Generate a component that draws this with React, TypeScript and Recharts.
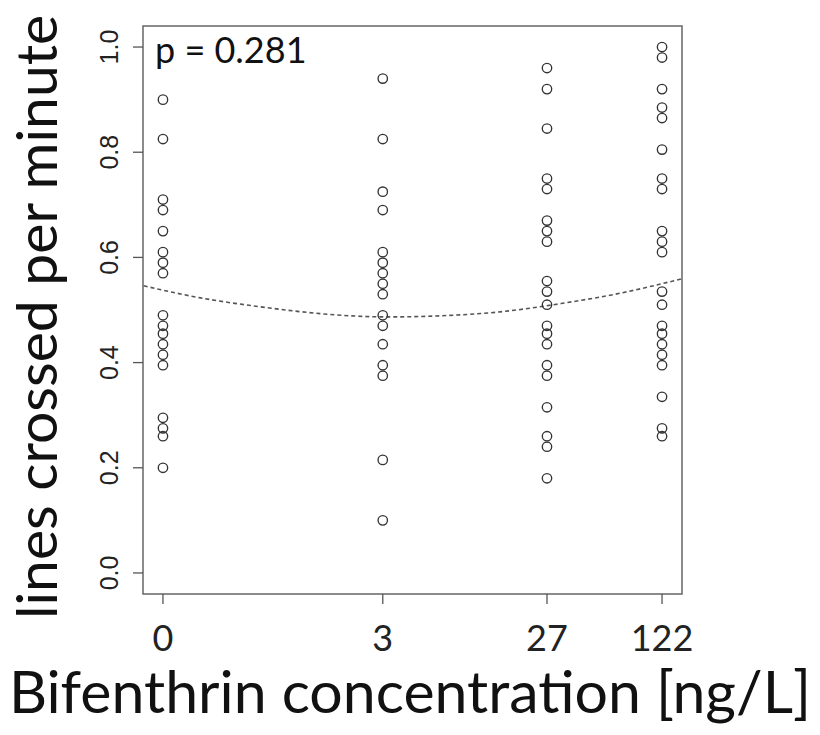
import { ComposedChart, Line, ReferenceArea, Scatter, XAxis, YAxis } from "recharts";

// concentrations are plotted on log10(conc + 0.18), as in the original figure
const OFFSET = 0.18;
const concentrations = [0, 3, 27, 122];
const concLabels = ["0", "3", "27", "122"];
const yTicks = [0, 0.2, 0.4, 0.6, 0.8, 1.0];

const lines0 = [0.9, 0.825, 0.71, 0.69, 0.65, 0.61, 0.59, 0.57, 0.49, 0.47, 0.455, 0.435, 0.415, 0.395, 0.295, 0.275, 0.26, 0.2];
const lines3 = [0.94, 0.825, 0.725, 0.69, 0.61, 0.59, 0.57, 0.55, 0.53, 0.49, 0.47, 0.435, 0.395, 0.375, 0.215, 0.1];
const lines27 = [0.96, 0.92, 0.845, 0.75, 0.73, 0.67, 0.65, 0.63, 0.555, 0.535, 0.51, 0.47, 0.455, 0.435, 0.395, 0.375, 0.315, 0.26, 0.24, 0.18];
const lines122 = [1.0, 0.98, 0.92, 0.885, 0.865, 0.805, 0.75, 0.73, 0.65, 0.63, 0.61, 0.535, 0.51, 0.47, 0.455, 0.435, 0.415, 0.395, 0.335, 0.275, 0.26];

// fitted curve (x in log10(conc + 0.18) units)
const fitPos = [-0.854, -0.531, -0.191, 0.149, 0.489, 0.829, 1.169, 1.509, 1.85, 2.196];
const fitVals = [0.546, 0.523, 0.506, 0.493, 0.487, 0.489, 0.4965, 0.512, 0.532, 0.559];

const pos = (c: number) => Math.log10(c + OFFSET);
const tickPos = concentrations.map(pos);
const span = tickPos[3] - tickPos[0];
const xDomain: [number, number] = [tickPos[0] - 0.04 * span, tickPos[3] + 0.04 * span];

const groups = [lines0, lines3, lines27, lines122];
const points = groups.flatMap((g, i) => g.map((v) => ({ t: tickPos[i], v })));
const fit = fitPos.map((t, i) => ({ t, v: fitVals[i] }));

const TITLE_FONT = "Lato, 'Open Sans', sans-serif";

function Ring(props: any) {
  const { cx, cy } = props;
  return <circle cx={cx} cy={cy} r={4.7} fill="none" stroke="#333" strokeWidth={1.35} />;
}

function XTick({ x, y, payload }: any) {
  const i = tickPos.findIndex((p) => Math.abs(p - payload.value) < 1e-9);
  return (
    <text x={x} y={y} dy={45} textAnchor="middle" fontFamily={TITLE_FONT} fontSize={36} fill="#222">
      {concLabels[i]}
    </text>
  );
}

function YTick({ x, y, payload }: any) {
  const tx = x - 12.5;
  return (
    <text
      x={tx}
      y={y}
      transform={`rotate(-90 ${tx} ${y})`}
      textAnchor="middle"
      fontFamily="'Liberation Sans', Arial, sans-serif"
      fontSize={25}
      fill="#222"
    >
      {payload.value.toFixed(1)}
    </text>
  );
}

export default function App() {
  return (
    <div style={{ position: "absolute", left: 0, top: 0, width: 820, height: 735, background: "#fff" }}>
      <ComposedChart width={820} height={735} margin={{ top: 26, right: 138, bottom: 81, left: 83 }}>
        <XAxis
          type="number"
          dataKey="t"
          domain={xDomain}
          ticks={tickPos}
          axisLine={false}
          tickLine={{ stroke: "#555", strokeWidth: 1.3 }}
          tickSize={10}
          height={60}
          tick={<XTick />}
          interval={0}
        />
        <YAxis
          type="number"
          dataKey="v"
          domain={[-0.04, 1.04]}
          ticks={yTicks}
          axisLine={false}
          tickLine={{ stroke: "#555", strokeWidth: 1.3 }}
          tickSize={10}
          width={60}
          tick={<YTick />}
          interval={0}
        />
        <ReferenceArea
          x1={xDomain[0]}
          x2={xDomain[1]}
          y1={-0.04}
          y2={1.04}
          fill="none"
          stroke="#666"
          strokeWidth={1.5}
          ifOverflow="visible"
        />
        <Line
          data={fit}
          dataKey="v"
          type="natural"
          stroke="#555"
          strokeWidth={1.6}
          strokeDasharray="4 3"
          dot={false}
          activeDot={false}
          isAnimationActive={false}
        />
        <Scatter data={points} dataKey="v" shape={<Ring />} isAnimationActive={false} />
        <text x={155} y={63} fontFamily={TITLE_FONT} fontSize={36} fill="#111">
          p = 0.281
        </text>
        <text
          x={57}
          y={317}
          transform="rotate(-90 57 317)"
          textAnchor="middle"
          fontFamily={TITLE_FONT}
          fontSize={57}
          fill="#111"
        >
          lines crossed per minute
        </text>
        <text x={410} y={713} textAnchor="middle" fontFamily={TITLE_FONT} fontSize={59} fill="#111">
          Bifenthrin concentration [ng/L]
        </text>
      </ComposedChart>
    </div>
  );
}
